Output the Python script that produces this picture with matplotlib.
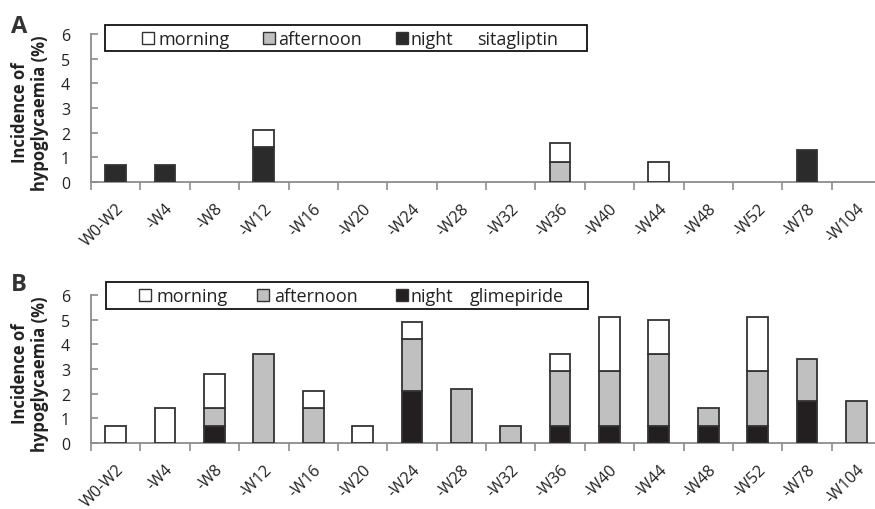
import matplotlib
matplotlib.use("Agg")
import matplotlib.pyplot as plt
from matplotlib.patches import Rectangle
import matplotlib.transforms as mtransforms
import numpy as np

plt.rcParams['font.family'] = ['Open Sans', 'DejaVu Sans']

categories = ["W0-W2", "-W4", "-W8", "-W12", "-W16", "-W20", "-W24", "-W28",
              "-W32", "-W36", "-W40", "-W44", "-W48", "-W52", "-W78", "-W104"]

# Panel A: sitagliptin
a_night     = [0.7, 0.7, 0, 1.4, 0, 0, 0, 0, 0, 0,   0, 0,   0, 0, 1.3, 0]
a_afternoon = [0,   0,   0, 0,   0, 0, 0, 0, 0, 0.8, 0, 0,   0, 0, 0,   0]
a_morning   = [0,   0,   0, 0.7, 0, 0, 0, 0, 0, 0.8, 0, 0.8, 0, 0, 0,   0]

# Panel B: glimepiride
b_night     = [0,   0,   0.7, 0,   0,   0,   2.1, 0,   0,   0.7, 0.7, 0.7, 0.7, 0.7, 1.7, 0]
b_afternoon = [0,   0,   0.7, 3.6, 1.4, 0,   2.1, 2.2, 0.7, 2.2, 2.2, 2.9, 0.7, 2.2, 1.7, 1.7]
b_morning   = [0.7, 1.4, 1.4, 0,   0.7, 0.7, 0.7, 0,   0,   0.7, 2.2, 1.4, 0,   2.2, 0,   0]

legend_labels = ["morning", "afternoon", "night"]
yticks = [0, 1, 2, 3, 4, 5, 6]

W, H = 875, 510
fig = plt.figure(figsize=(W / 100, H / 100), dpi=100)

edge = '#333333'
c_morning = '#ffffff'
c_after = '#c0c0c0'
c_night_a = '#2b2b2b'
c_night_b = '#231f20'
spine_col = '#8c8c8c'
txt_col = '#222222'


def fx(px):
    return px / W


def fy(py):
    return 1 - py / H


def panel(top_px, night, after, morning, drug, night_col, leg):
    ax = fig.add_axes([fx(91), fy(top_px + 148), 790 / W, 148 / H])
    x = np.arange(len(categories))
    night = np.array(night, float)
    after = np.array(after, float)
    morning = np.array(morning, float)
    bw = 0.42

    def draw(vals, bottom, col):
        m = vals > 0
        ax.bar(x[m], vals[m], bw, bottom=bottom[m], color=col, edgecolor=edge,
               linewidth=1.3, zorder=3)
    draw(night, np.zeros_like(night), night_col)
    draw(after, night, c_after)
    draw(morning, night + after, c_morning)

    ax.set_ylim(0, 6)
    ax.set_xlim(-0.5, 15.5)
    ax.set_yticks(yticks)
    ax.set_yticklabels([str(t) for t in yticks])
    ax.set_xticks(x)
    ax.set_xticklabels(categories, rotation=45, ha='right', va='top',
                       rotation_mode='anchor')
    off = mtransforms.ScaledTranslation(-8 / 100, 0, fig.dpi_scale_trans)
    for lab in ax.get_xticklabels():
        lab.set_transform(lab.get_transform() + off)
    ax.set_xticks(np.arange(-0.5, 16, 1), minor=True)
    ax.tick_params(axis='x', which='major', length=0, pad=13, labelsize=11.6,
                   labelcolor=txt_col)
    ax.tick_params(axis='x', which='minor', length=6, direction='out',
                   color=spine_col, width=1.2)
    ax.tick_params(axis='y', length=5, direction='in', color=spine_col, width=1.2,
                   labelsize=11.5, labelcolor=txt_col, pad=15)
    for s in ['top', 'right']:
        ax.spines[s].set_visible(False)
    for s in ['left', 'bottom']:
        ax.spines[s].set_color(spine_col)
        ax.spines[s].set_linewidth(1.3)

    # two-line y label
    ymid = top_px + 78
    fig.text(fx(20), fy(ymid), "Incidence of", rotation=90, ha='center', va='center',
             fontsize=12, fontweight='bold', color=txt_col)
    fig.text(fx(40), fy(ymid), "hypoglycaemia (%)", rotation=90, ha='center',
             va='center', fontsize=12, fontweight='bold', color=txt_col)

    # legend box
    bx0, by0, bx1, by1 = leg['box']
    fig.patches.append(Rectangle((fx(bx0), fy(by1)), (bx1 - bx0) / W, (by1 - by0) / H,
                                 transform=fig.transFigure, facecolor='white',
                                 edgecolor='#111111', linewidth=1.3, zorder=5))
    cols = [c_morning, c_after, night_col]
    base = leg['baseline']
    for hx, tx, col, lab in zip(leg['handles'], leg['texts'], cols, legend_labels):
        fig.patches.append(Rectangle((fx(hx), fy(base)), 12 / W, 12 / H,
                                     transform=fig.transFigure, facecolor=col,
                                     edgecolor='#333333', linewidth=1.0, zorder=6))
        fig.text(fx(tx), fy(base), lab, ha='left', va='baseline', fontsize=13,
                 color=txt_col, zorder=7)
    fig.text(fx(leg['drug_x']), fy(base), drug, ha='left', va='baseline', fontsize=13,
             color=txt_col, zorder=7)
    return ax


legA = dict(box=(105, 26, 587, 52), baseline=45, handles=(142, 263, 396),
            texts=(158, 278, 411), drug_x=477)
legB = dict(box=(106, 283, 588, 310), baseline=302, handles=(139, 257, 396),
            texts=(157, 274, 410), drug_x=470)

axA = panel(35, a_night, a_afternoon, a_morning, "sitagliptin", c_night_a, legA)
axB = panel(296, b_night, b_afternoon, b_morning, "glimepiride", c_night_b, legB)

fig.text(fx(11), fy(33), "A", fontsize=17, fontweight='bold', color='#333333')
fig.text(fx(11), fy(291), "B", fontsize=17, fontweight='bold', color='#333333')

fig.savefig("out.png", dpi=100)
